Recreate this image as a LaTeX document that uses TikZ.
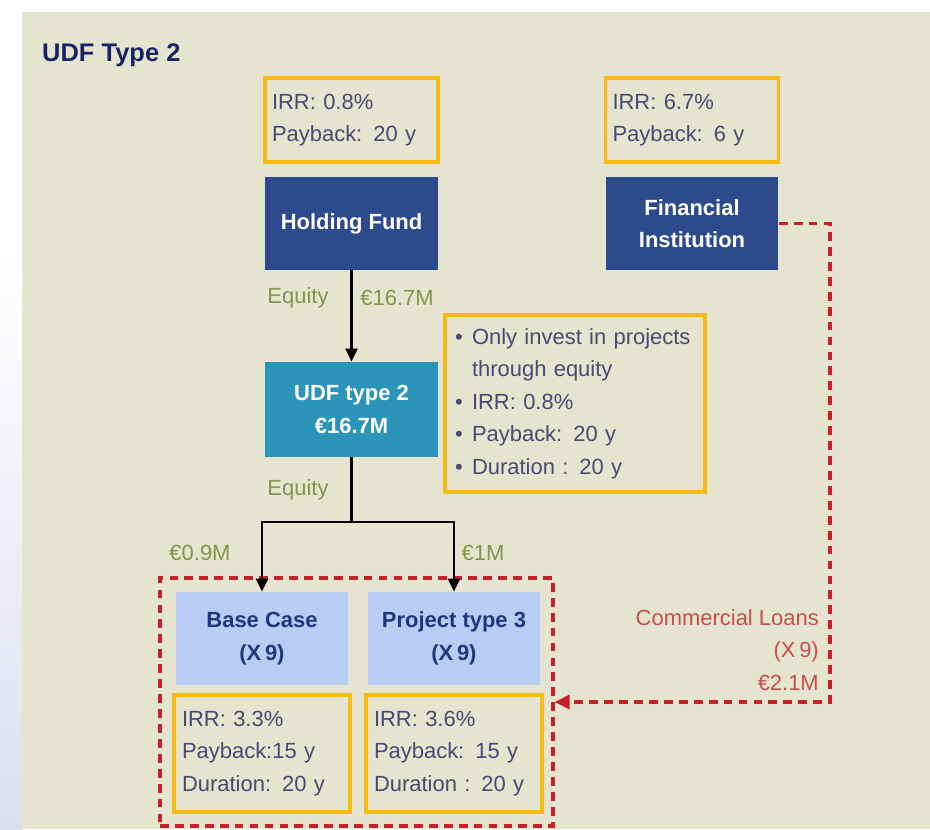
\documentclass[tikz,border=0pt]{standalone}
\usepackage{fontspec}
\setmainfont{Liberation Sans}
\usepackage{tikz}
\usetikzlibrary {arrows.meta}

\definecolor{panel}{RGB}{229,228,206}
\definecolor{navyfill}{RGB}{44,74,140}
\definecolor{tealfill}{RGB}{42,148,185}
\definecolor{paleblue}{RGB}{184,205,243}
\definecolor{gold}{RGB}{247,185,20}
\definecolor{slate}{RGB}{72,74,116}
\definecolor{olive}{RGB}{130,148,78}
\definecolor{loanred}{RGB}{200,32,42}
\definecolor{loantext}{RGB}{198,78,78}
\definecolor{titlenavy}{RGB}{24,34,102}
\definecolor{casenavy}{RGB}{34,54,128}

\newcommand{\blt}{\makebox[0.34cm][l]{\textbullet}}

\tikzset{
  boxtext/.style={font=\fontsize{12.5}{18.5}\selectfont},
  kpi/.style={boxtext, draw=gold, line width=2.2pt, text=slate, align=left,
    inner xsep=0.14cm, minimum height=1.68cm},
  fund/.style={font=\fontsize{12.5}{18.5}\selectfont\bfseries, text=white, align=center,
    minimum width=3.46cm, minimum height=1.86cm},
  proj/.style={fund, fill=paleblue, text=casenavy, minimum width=3.44cm},
  lbl/.style={boxtext, text=olive},
  flow/.style={line width=1.4pt, -{Triangle[length=0.26cm, width=0.24cm]}},
  loan/.style={draw=loanred, line width=1.9pt, dash pattern=on 5pt off 3.5pt}
}

\begin{document}
\begin{tikzpicture}[x=0.02cm, y=-0.02cm]
  \useasboundingbox (0,0) rectangle (930,829);
  % background
  \fill[white] (0,0) rectangle (930,829);
  \shade[top color=white, bottom color={rgb,255:red,220;green,222;blue,240}] (0,250) rectangle (22,829);
  \fill[panel] (22,12) rectangle (930,829);

  \node[anchor=west, text=titlenavy, font=\fontsize{14.5}{17}\selectfont\bfseries] (title) at (36,55) {UDF Type 2};

  % fonds
  \node[fund, fill=navyfill] (hold) at (351.5,223.5) {Holding Fund};
  \node[fund, fill=navyfill] (fin) at (692,223.5) {Financial\\Institution};
  \node[fund, fill=tealfill, minimum height=1.9cm] (udf) at (351.5,409.5) {UDF type 2\\€16.7M};
  \node[kpi, text width=3.18cm] (kpihold) at (351.5,120) {IRR: 0.8\%\\Payback: 20 y};
  \node[kpi, text width=3.18cm] (kpifin) at (692,120) {IRR: 6.7\%\\Payback: 6 y};
  \node[kpi, text width=4.8cm, inner xsep=0.2cm, minimum height=3.54cm] (kpiudf) at (575,403.5)
    {\blt Only invest in projects\\\hspace*{0.34cm}through equity\\\blt IRR: 0.8\%\\\blt Payback: 20 y\\\blt Duration : 20 y};

  % projets
  \node[loan, minimum width=7.86cm, minimum height=4.96cm] (grp) at (356.5,702) {};
  \node[proj] (base) at (262,638.5) {Base Case\\(X\,9)};
  \node[proj] (ptype) at (454,638.5) {Project type 3\\(X\,9)};
  \node[kpi, text width=3.2cm, inner xsep=0.16cm, minimum height=2.34cm] (kpibase) at (262,753.5)
    {IRR: 3.3\%\\Payback:15 y\\Duration: 20 y};
  \node[kpi, text width=3.2cm, inner xsep=0.16cm, minimum height=2.34cm] (kpiptype) at (454,753.5)
    {IRR: 3.6\%\\Payback: 15 y\\Duration : 20 y};

  % equity
  \coordinate (split) at (351.5,522);
  \draw[flow] (hold) -- (udf);
  \draw[line width=1.4pt] (udf) -- (split);
  \draw[flow] (split) -| (base);
  \draw[flow] (split) -| (ptype);
  \node[lbl] (eqtop) at (298,298) {Equity};
  \node[lbl] (amttop) at (397,298) {€16.7M};
  \node[lbl] (eqmid) at (298,490) {Equity};
  \node[lbl] (amtbase) at (200,553) {€0.9M};
  \node[lbl] (amtptype) at (483,553) {€1M};

  % loans
  \coordinate (turn) at (830,223.5);
  \draw[loan, -{Triangle[length=0.3cm, width=0.28cm]}] (fin) -- (turn) |- (grp);
  \node[boxtext, text=loantext, anchor=east, align=right] (loanlbl) at (825,650)
    {Commercial Loans\\(X\,9)\\€2.1M};
\end{tikzpicture}
\end{document}
